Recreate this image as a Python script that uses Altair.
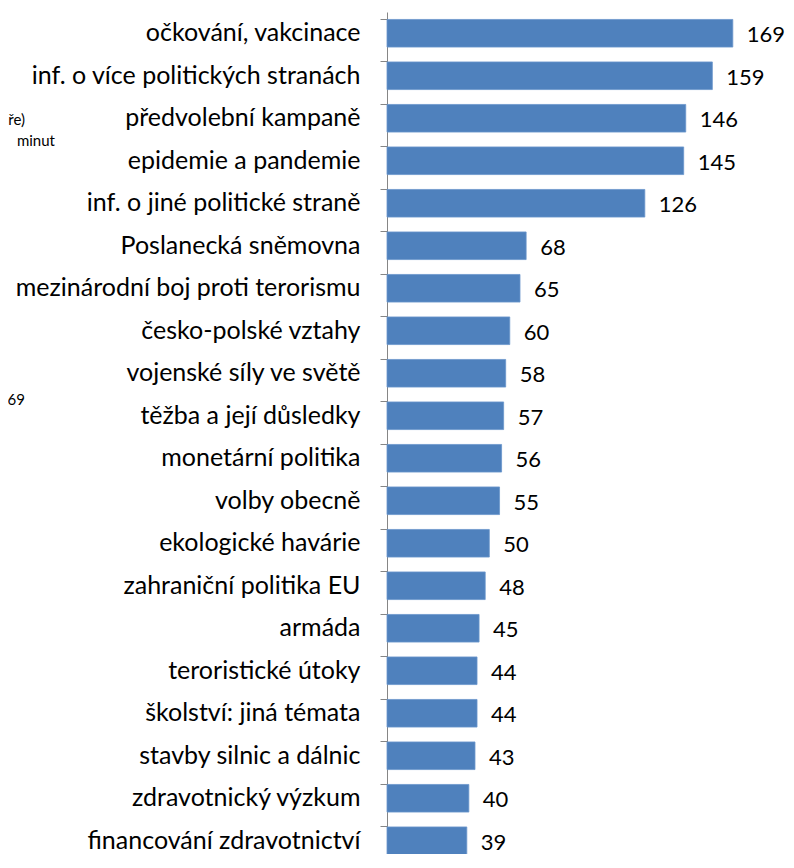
import altair as alt
import pandas as pd

categories = [
    "očkování, vakcinace",
    "inf. o více politických stranách",
    "předvolební kampaně",
    "epidemie a pandemie",
    "inf. o jiné politické straně",
    "Poslanecká sněmovna",
    "mezinárodní boj proti terorismu",
    "česko-polské vztahy",
    "vojenské síly ve světě",
    "těžba a její důsledky",
    "monetární politika",
    "volby obecně",
    "ekologické havárie",
    "zahraniční politika EU",
    "armáda",
    "teroristické útoky",
    "školství: jiná témata",
    "stavby silnic a dálnic",
    "zdravotnický výzkum",
    "financování zdravotnictví",
]
values = [169, 159, 146, 145, 126, 68, 65, 60, 58, 57, 56, 55, 50, 48, 45, 44, 44, 43, 40, 39]

df = pd.DataFrame({"tema": categories, "pocet": values})

W = 399
H = 842
STEP = 42.5
Y_RANGE = [0, STEP * len(categories)]

y_enc = alt.Y(
    "tema:N",
    sort=None,
    title=None,
    scale=alt.Scale(paddingInner=0.35, paddingOuter=0.175, range=Y_RANGE),
    axis=alt.Axis(
        labelFont="Lato",
        labelFontSize=25,
        labelColor="#000000",
        labelLimit=500,
        labelPadding=20,
        domainColor="#868686",
        tickColor="#868686",
        tickSize=7,
        bandPosition=0,
        grid=False,
    ),
)
x_enc = alt.X("pocet:Q", axis=None, scale=alt.Scale(domain=[0, 195], nice=False))

base = alt.Chart(df)
bars = base.mark_bar(color="#4F81BD", stroke="#6A96CC", strokeWidth=0.8).encode(x=x_enc, y=y_enc)
labels = base.mark_text(
    align="left", baseline="middle", dx=14, dy=2, font="Lato", fontSize=22, color="#000000"
).encode(x=x_enc, y=alt.Y("tema:N", sort=None), text="pocet:Q")

frag_src = alt.Data(values=[{}])
frag1 = alt.Chart(frag_src).mark_text(text="ře)", align="right", baseline="middle",
                                      font="Lato", fontSize=15, color="#000000").encode(
    x=alt.value(-362), y=alt.value(108))
frag2 = alt.Chart(frag_src).mark_text(text="minut", align="right", baseline="middle",
                                      font="Lato", fontSize=15, color="#000000").encode(
    x=alt.value(-332), y=alt.value(129))
frag3 = alt.Chart(frag_src).mark_text(text="69", align="right", baseline="middle",
                                      font="Lato", fontSize=15, color="#000000").encode(
    x=alt.value(-362), y=alt.value(388))

chart = (
    alt.layer(bars, labels, frag1, frag2, frag3)
    .properties(
        width=W,
        height=H,
        autosize=alt.AutoSizeParams(type="none"),
        padding={"left": 379, "top": 4, "right": 0, "bottom": 0},
    )
    .configure_view(stroke=None)
)

chart.save("out.html", embed_options={"renderer": "svg", "actions": False})
